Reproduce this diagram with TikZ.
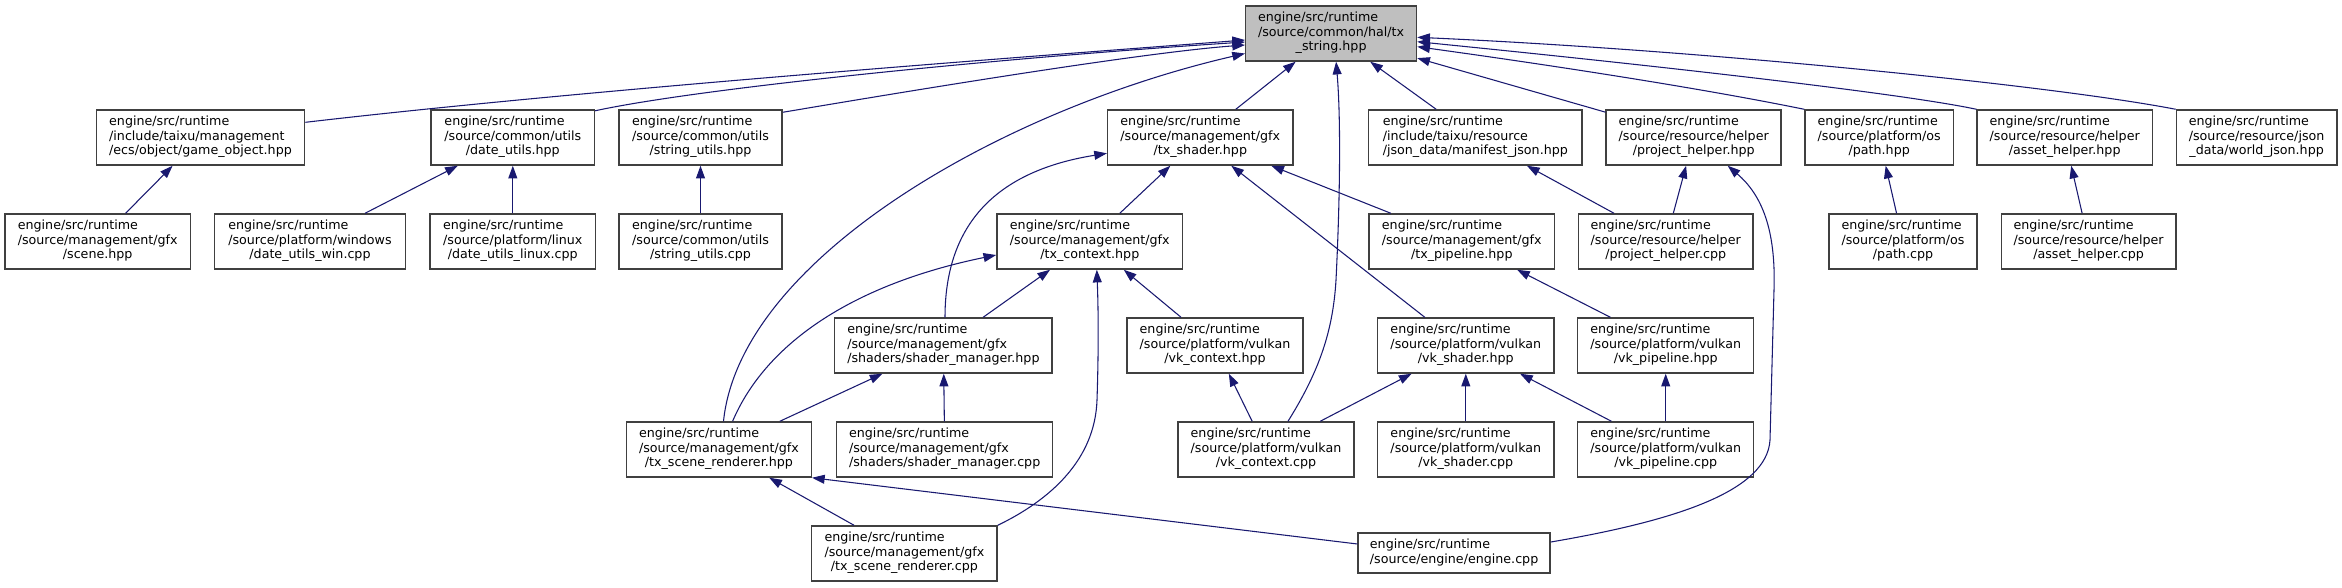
\documentclass[tikz,border=0pt]{standalone}
\usepackage{fontspec}
\setmainfont{DejaVu Sans}
\usetikzlibrary{arrows.meta,calc}
\definecolor{edgec}{HTML}{191970}
\definecolor{boxc}{HTML}{404040}
\definecolor{hlfill}{HTML}{BFBFBF}
\newcommand{\flab}[3]{\begin{tabular}{@{}l@{}}#1\\#2\\\multicolumn{1}{@{}c@{}}{#3}\end{tabular}}
\newcommand{\flabb}[2]{\begin{tabular}{@{}l@{}}#1\\\multicolumn{1}{@{}c@{}}{#2}\end{tabular}}
\tikzset{
  filebox/.style={draw=boxc, line width=1.1pt, fill=white, inner sep=0pt,
    minimum width=#1*0.75pt, minimum height=41.25pt,
    font=\fontsize{9.5pt}{10.9pt}\selectfont},
  edge/.style={draw=edgec, line width=0.8pt, -{Triangle[length=9.5pt,width=6.7pt]}}
}
\begin{document}
\begin{tikzpicture}[x=0.75pt,y=-0.75pt]
\useasboundingbox (0,0) rectangle (2342,587);
% row 0
\node[filebox=170.8, fill=hlfill] (txstring) at (1331.1,33.5) {\flab{engine/src/runtime}{/source/common/hal/tx}{\_string.hpp}};
% row 1
\node[filebox=208.2] (gameobj) at (200.5,137.5) {\flab{engine/src/runtime}{/include/taixu/management}{/ecs/object/game\_object.hpp}};
\node[filebox=163.3] (dateutils) at (512.8,137.5) {\flab{engine/src/runtime}{/source/common/utils}{/date\_utils.hpp}};
\node[filebox=163.2] (strutils) at (700.5,137.5) {\flab{engine/src/runtime}{/source/common/utils}{/string\_utils.hpp}};
\node[filebox=185.3] (txshader) at (1200.3,137.5) {\flab{engine/src/runtime}{/source/management/gfx}{/tx\_shader.hpp}};
\node[filebox=213.7] (manifest) at (1475.3,137.5) {\flab{engine/src/runtime}{/include/taixu/resource}{/json\_data/manifest\_json.hpp}};
\node[filebox=175] (projhpp) at (1693.7,137.5) {\flab{engine/src/runtime}{/source/resource/helper}{/project\_helper.hpp}};
\node[filebox=148.6] (pathhpp) at (1879.2,137.5) {\flab{engine/src/runtime}{/source/platform/os}{/path.hpp}};
\node[filebox=175.1] (assethpp) at (2064.7,137.5) {\flab{engine/src/runtime}{/source/resource/helper}{/asset\_helper.hpp}};
\node[filebox=160.4] (worldjson) at (2256.6,137.5) {\flab{engine/src/runtime}{/source/resource/json}{\_data/world\_json.hpp}};
% row 2
\node[filebox=185.2] (scene) at (97.7,241.5) {\flab{engine/src/runtime}{/source/management/gfx}{/scene.hpp}};
\node[filebox=191.3] (datewin) at (310,241.5) {\flab{engine/src/runtime}{/source/platform/windows}{/date\_utils\_win.cpp}};
\node[filebox=165.3] (datelinux) at (512.8,241.5) {\flab{engine/src/runtime}{/source/platform/linux}{/date\_utils\_linux.cpp}};
\node[filebox=163.2] (strcpp) at (700.5,241.5) {\flab{engine/src/runtime}{/source/common/utils}{/string\_utils.cpp}};
\node[filebox=185.8] (txcontext) at (1089.8,241.5) {\flab{engine/src/runtime}{/source/management/gfx}{/tx\_context.hpp}};
\node[filebox=185.7] (txpipeline) at (1461.8,241.5) {\flab{engine/src/runtime}{/source/management/gfx}{/tx\_pipeline.hpp}};
\node[filebox=174.2] (projcpp) at (1665.7,241.5) {\flab{engine/src/runtime}{/source/resource/helper}{/project\_helper.cpp}};
\node[filebox=148.1] (pathcpp) at (1903,241.5) {\flab{engine/src/runtime}{/source/platform/os}{/path.cpp}};
\node[filebox=174.6] (assetcpp) at (2088.6,241.5) {\flab{engine/src/runtime}{/source/resource/helper}{/asset\_helper.cpp}};
% row 3
\node[filebox=217.3] (shmhpp) at (943.4,345.5) {\flab{engine/src/runtime}{/source/management/gfx}{/shaders/shader\_manager.hpp}};
\node[filebox=176.1] (vkctxhpp) at (1215,345.5) {\flab{engine/src/runtime}{/source/platform/vulkan}{/vk\_context.hpp}};
\node[filebox=176.6] (vkshhpp) at (1465.8,345.5) {\flab{engine/src/runtime}{/source/platform/vulkan}{/vk\_shader.hpp}};
\node[filebox=176] (vkpipehpp) at (1665.7,345.5) {\flab{engine/src/runtime}{/source/platform/vulkan}{/vk\_pipeline.hpp}};
% row 4
\node[filebox=184.7] (trhpp) at (718.9,449.5) {\flab{engine/src/runtime}{/source/management/gfx}{/tx\_scene\_renderer.hpp}};
\node[filebox=215.9] (shmcpp) at (944.7,449.5) {\flab{engine/src/runtime}{/source/management/gfx}{/shaders/shader\_manager.cpp}};
\node[filebox=176.1] (vkctxcpp) at (1266,449.5) {\flab{engine/src/runtime}{/source/platform/vulkan}{/vk\_context.cpp}};
\node[filebox=176.6] (vkshcpp) at (1465.8,449.5) {\flab{engine/src/runtime}{/source/platform/vulkan}{/vk\_shader.cpp}};
\node[filebox=176] (vkpipecpp) at (1665.7,449.5) {\flab{engine/src/runtime}{/source/platform/vulkan}{/vk\_pipeline.cpp}};
% row 5
\node[filebox=185.3] (trcpp) at (904.4,553.5) {\flab{engine/src/runtime}{/source/management/gfx}{/tx\_scene\_renderer.cpp}};
\node[filebox=191.8, minimum height=30pt] (enginecpp) at (1454.1,553) {\flabb{engine/src/runtime}{/source/engine/engine.cpp}};

% straight edges
\draw[edge] (scene) -- (gameobj);
\draw[edge] (datewin) -- (dateutils);
\draw[edge] (datelinux) -- (dateutils);
\draw[edge] (strcpp) -- (strutils);
\draw[edge] (txshader) -- (txstring);
\draw[edge] (manifest) -- (txstring);
\draw[edge] (projhpp) -- (txstring);
\draw[edge] (txcontext) -- (txshader);
\draw[edge] (txpipeline) -- (txshader);
\draw[edge] ($(vkshhpp.north)+(-41,0)$) -- ($(txshader.south)+(31,0)$);
\draw[edge] (projcpp) -- (manifest);
\draw[edge] (projcpp) -- (projhpp);
\draw[edge] (pathcpp) -- (pathhpp);
\draw[edge] (assetcpp) -- (assethpp);
\draw[edge] (shmhpp) -- (txcontext);
\draw[edge] (vkctxhpp) -- (txcontext);
\draw[edge] (vkpipehpp) -- (txpipeline);
\draw[edge] (trhpp) -- (shmhpp);
\draw[edge] (shmcpp) -- (shmhpp);
\draw[edge] (vkctxcpp) -- (vkctxhpp);
\draw[edge] (vkctxcpp) -- (vkshhpp);
\draw[edge] (vkshcpp) -- (vkshhpp);
\draw[edge] (vkpipecpp) -- (vkshhpp);
\draw[edge] (vkpipecpp) -- (vkpipehpp);
\draw[edge] (trcpp) -- (trhpp);
\draw[edge] ($(enginecpp.west)+(0,-9)$) -- (trhpp.south east);

% curved edges into tx_string
\draw[edge] ($(gameobj.east)+(0,-15.2)$) .. controls (600,88) and (1050,55) .. ($(txstring.west)+(0,6.5)$);
\draw[edge] ($(dateutils.north east)+(0,1.5)$) .. controls (700,88) and (1000,58) .. ($(txstring.west)+(0,8.5)$);
\draw[edge] ($(strutils.north east)+(0,3)$) .. controls (950,84) and (1150,52) .. ($(txstring.west)+(0,11.5)$);
\draw[edge] ($(trhpp.north)+(4.6,0)$) .. controls (740,260) and (1000,110) .. ($(txstring.west)+(0,20)$);
\draw[edge] ($(vkctxcpp.north)+(22,0)$) .. controls (1320,370) and (1333,330) .. (1336,280) .. controls (1340,200) and (1341,120) .. ($(txstring.south)+(5,0)$);
\draw[edge] (pathhpp.north west) .. controls (1700,88) and (1550,65) .. ($(txstring.east)+(0,13.2)$);
\draw[edge] (assethpp.north west) .. controls (1900,93) and (1650,65) .. ($(txstring.east)+(0,8.2)$);
\draw[edge] (worldjson.north west) .. controls (2050,85) and (1700,50) .. ($(txstring.east)+(0,3.8)$);

% other curved edges
\draw[edge] ($(shmhpp.north)+(1.6,0)$) .. controls (945,230) and (990,172) .. ($(txshader.west)+(0,15.8)$);
\draw[edge] ($(trhpp.north)+(13.7,0)$) .. controls (765,345) and (850,285) .. ($(txcontext.west)+(0,13.5)$);
\draw[edge] (trcpp.north east) .. controls (1050,500) and (1095,460) .. (1097,400) .. controls (1099,340) and (1098,300) .. ($(txcontext.south)+(7,0)$);
\draw[edge] ($(enginecpp.east)+(0,-11)$) .. controls (1680,520) and (1767,490) .. (1770,440) -- (1774,290) .. controls (1776,230) and (1762,195) .. ($(projhpp.south)+(34,0)$);
\end{tikzpicture}
\end{document}
